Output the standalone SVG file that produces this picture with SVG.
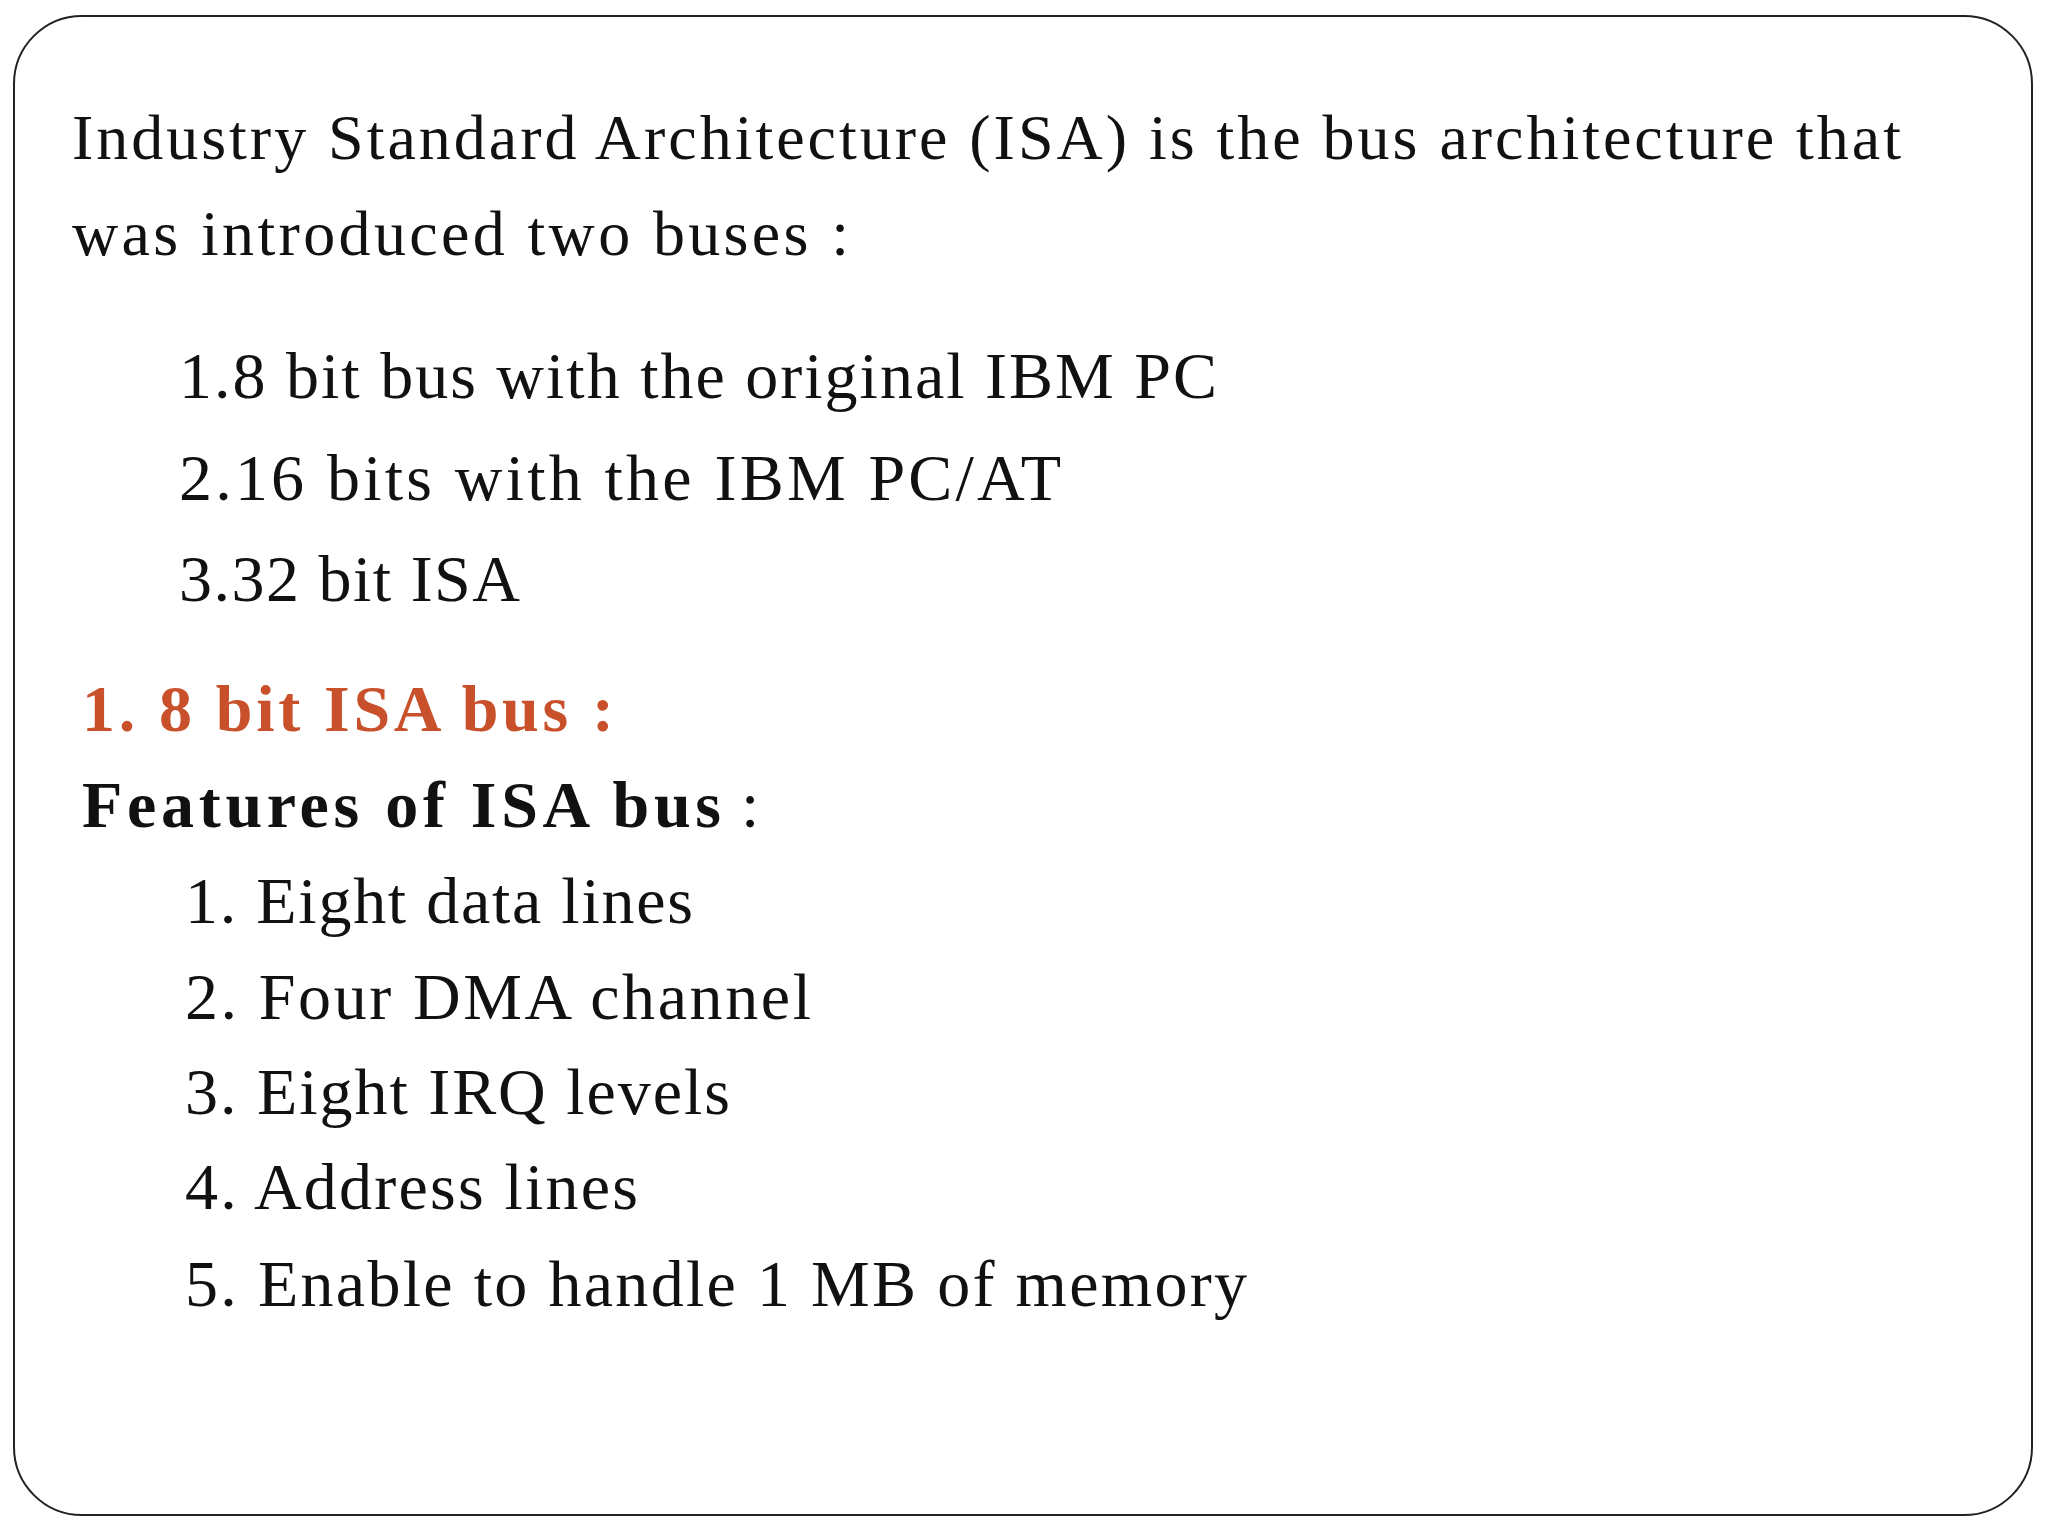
<svg xmlns="http://www.w3.org/2000/svg" width="2048" height="1536" viewBox="0 0 2048 1536">
<style>
text{font-family:"Liberation Serif",serif;fill:#111}
.p{font-size:64px}
.l{font-size:66px}
.h{font-size:66px;font-weight:bold}
.o{fill:#C8502A}
</style>
<rect x="0" y="0" width="2048" height="1536" fill="#fff"/>
<g id="frame"><rect x="14" y="16" width="2018" height="1499" rx="68" fill="#fff" stroke="#222" stroke-width="2"/></g>
<g id="intro">
<text class="p" x="72" y="159" textLength="1829" lengthAdjust="spacing">Industry Standard Architecture (ISA) is the bus architecture that</text>
<text class="p" x="72" y="255" textLength="777" lengthAdjust="spacing">was introduced two buses :</text>
</g>
<g id="buses">
<text class="l" x="179" y="398" textLength="1038" lengthAdjust="spacing">1.8 bit bus with the original IBM PC</text>
<text class="l" x="179" y="500" textLength="882" lengthAdjust="spacing">2.16 bits with the IBM PC/AT</text>
<text class="l" x="179" y="601" textLength="341" lengthAdjust="spacing">3.32 bit ISA</text>
</g>
<g id="heading">
<text class="h o" x="82" y="731" textLength="532" lengthAdjust="spacing">1. 8 bit ISA bus :</text>
<text class="h" x="82" y="827" textLength="639" lengthAdjust="spacing">Features of ISA bus</text>
<text class="l" x="741" y="827">:</text>
</g>
<g id="features">
<text class="l" x="185" y="923" textLength="508" lengthAdjust="spacing">1. Eight data lines</text>
<text class="l" x="185" y="1019" textLength="626" lengthAdjust="spacing">2. Four DMA channel</text>
<text class="l" x="185" y="1114" textLength="545" lengthAdjust="spacing">3. Eight IRQ levels</text>
<text class="l" x="185" y="1209" textLength="453" lengthAdjust="spacing">4. Address lines</text>
<text class="l" x="185" y="1306" textLength="1062" lengthAdjust="spacing">5. Enable to handle 1 MB of memory</text>
</g>
</svg>
